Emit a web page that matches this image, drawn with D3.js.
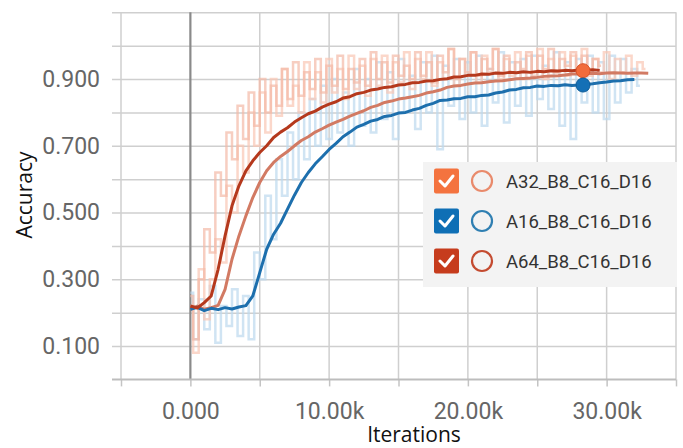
<!DOCTYPE html>
<html>
<head>
<meta charset="utf-8">
<script src="https://cdn.jsdelivr.net/npm/d3@7"></script>
<style>
  body { margin: 0; background: #fff; }
  svg { display: block; }
</style>
</head>
<body>
<svg id="chart"></svg>
<script>
const SVG_WIDTH = 683;
const SVG_HEIGHT = 448;

// sampled every SMOOTH_STEP iterations, starting at 0
const SMOOTH_STEP = 500;
const RAW_STEP = 400;

const seriesNames = ["A32_B8_C16_D16", "A16_B8_C16_D16", "A64_B8_C16_D16"];

const a32Smooth = [0.21, 0.22, 0.21, 0.215, 0.222, 0.27, 0.36, 0.43, 0.49, 0.545,
  0.59, 0.625, 0.65, 0.668, 0.683, 0.70, 0.716, 0.727, 0.741, 0.751,
  0.762, 0.771, 0.779, 0.789, 0.797, 0.805, 0.815, 0.821, 0.83, 0.834,
  0.84, 0.843, 0.847, 0.851, 0.858, 0.862, 0.867, 0.875, 0.879, 0.881,
  0.885, 0.888, 0.889, 0.892, 0.894, 0.895, 0.898, 0.901, 0.902, 0.903,
  0.905, 0.908, 0.909, 0.91, 0.912, 0.915, 0.915, 0.916, 0.917, 0.916,
  0.918, 0.919, 0.918, 0.917, 0.918, 0.918, 0.917];

const a16Smooth = [0.21, 0.216, 0.206, 0.213, 0.209, 0.215, 0.211, 0.217, 0.221, 0.25,
  0.32, 0.39, 0.435, 0.468, 0.51, 0.552, 0.59, 0.62, 0.646, 0.667,
  0.689, 0.707, 0.727, 0.741, 0.756, 0.764, 0.774, 0.779, 0.788, 0.791,
  0.798, 0.80, 0.807, 0.812, 0.821, 0.827, 0.836, 0.837, 0.841, 0.842,
  0.847, 0.847, 0.851, 0.852, 0.858, 0.861, 0.867, 0.869, 0.874, 0.875,
  0.879, 0.878, 0.881, 0.88, 0.883, 0.881, 0.882, 0.884, 0.886, 0.889,
  0.891, 0.894, 0.895, 0.898, 0.899];

const a64Smooth = [0.22, 0.214, 0.23, 0.25, 0.33, 0.43, 0.52, 0.58, 0.625, 0.655,
  0.68, 0.70, 0.725, 0.741, 0.754, 0.771, 0.784, 0.796, 0.804, 0.816,
  0.825, 0.832, 0.843, 0.847, 0.856, 0.86, 0.867, 0.87, 0.875, 0.877,
  0.882, 0.884, 0.889, 0.89, 0.894, 0.895, 0.899, 0.901, 0.906, 0.907,
  0.911, 0.911, 0.915, 0.914, 0.918, 0.917, 0.92, 0.919, 0.922, 0.92,
  0.923, 0.922, 0.925, 0.924, 0.926, 0.925, 0.927, 0.926, 0.928, 0.926];

// raw (unsmoothed) values, every RAW_STEP iterations
const a32Raw = [0.22, 0.08, 0.33, 0.18, 0.30, 0.42, 0.35, 0.58, 0.50, 0.70,
  0.62, 0.80, 0.70, 0.86, 0.74, 0.90, 0.79, 0.93, 0.82, 0.88,
  0.80, 0.95, 0.84, 0.92, 0.83, 0.96, 0.86, 0.93, 0.84, 0.97,
  0.87, 0.94, 0.85, 0.96, 0.88, 0.97, 0.86, 0.95, 0.89, 0.98,
  0.87, 0.96, 0.90, 0.98, 0.88, 0.95, 0.90, 0.99, 0.88, 0.96,
  0.91, 0.98, 0.89, 0.97, 0.92, 0.99, 0.90, 0.96, 0.91, 0.98,
  0.90, 0.97, 0.92, 0.99, 0.90, 0.96, 0.92, 0.98, 0.91, 0.97,
  0.93, 0.99, 0.91, 0.96, 0.92, 0.98, 0.90, 0.96, 0.92, 0.97,
  0.91, 0.95, 0.93];

const a16Raw = [0.26, 0.12, 0.24, 0.15, 0.28, 0.11, 0.22, 0.16, 0.27, 0.13,
  0.25, 0.12, 0.38, 0.30, 0.55, 0.42, 0.66, 0.55, 0.74, 0.60,
  0.80, 0.66, 0.84, 0.70, 0.88, 0.72, 0.90, 0.74, 0.86, 0.70,
  0.93, 0.76, 0.90, 0.74, 0.95, 0.78, 0.92, 0.72, 0.96, 0.80,
  0.91, 0.75, 0.95, 0.80, 0.97, 0.69, 0.94, 0.82, 0.96, 0.78,
  0.95, 0.80, 0.97, 0.76, 0.93, 0.83, 0.98, 0.77, 0.95, 0.82,
  0.96, 0.79, 0.97, 0.84, 0.94, 0.81, 0.98, 0.76, 0.95, 0.72,
  0.96, 0.83, 0.97, 0.80, 0.95, 0.78, 0.97, 0.83, 0.96, 0.86,
  0.93, 0.88];

const a64Raw = [0.25, 0.12, 0.30, 0.45, 0.38, 0.62, 0.55, 0.74, 0.66, 0.82,
  0.72, 0.86, 0.76, 0.90, 0.80, 0.88, 0.82, 0.93, 0.84, 0.95,
  0.85, 0.92, 0.87, 0.96, 0.86, 0.94, 0.88, 0.97, 0.87, 0.93,
  0.89, 0.96, 0.88, 0.98, 0.90, 0.95, 0.89, 0.97, 0.91, 0.94,
  0.90, 0.98, 0.91, 0.95, 0.89, 0.97, 0.92, 0.99, 0.90, 0.96,
  0.92, 0.98, 0.91, 0.96, 0.93, 0.99, 0.91, 0.97, 0.92, 0.95,
  0.93, 0.98, 0.91, 0.97, 0.93, 0.99, 0.92, 0.96, 0.94, 0.98,
  0.92, 0.97, 0.93, 0.96, 0.94];

// hover markers
const markerIter = 28300;
const markerA32 = 0.925;
const markerA16 = 0.882;

const yGrid = [0.1, 0.2, 0.3, 0.4, 0.5, 0.6, 0.7, 0.8, 0.9, 1.0, 1.1];
const yLabels = [0.1, 0.3, 0.5, 0.7, 0.9];
const xGrid = [-5000, 0, 5000, 10000, 15000, 20000, 25000, 30000, 35000];
const xLabels = [0, 10000, 20000, 30000];

const smoothColors = ["#d27a63", "#1d6fad", "#b5391d"];
const rawColors = ["#f9c6b3", "#bcd9ee", "#f4b9a6"];
const boxColors = ["#f4733f", "#0f6fb5", "#c63c1d"];
const ringColors = ["#e98a6b", "#2f7fb2", "#c44b30"];

let svg = d3.select("#chart")
  .attr("width", SVG_WIDTH)
  .attr("height", SVG_HEIGHT);

let x = d3.scaleLinear().domain([-5000, 35000]).range([121, 676]);
let y = d3.scaleLinear().domain([0, 1.1]).range([379.4, 12.3]);

// horizontal grid + y labels
let yAxis = d3.axisLeft(y)
  .tickValues(yGrid)
  .tickSize(-(676 - 112))
  .tickPadding(12)
  .tickFormat(d => yLabels.some(v => Math.abs(v - d) < 1e-9) ? d3.format(".3f")(d) : "");

svg.append("g")
  .attr("transform", "translate(112,0)")
  .call(yAxis)
  .call(g => g.select(".domain").remove())
  .call(g => g.selectAll("line").attr("stroke", "#cfcfcf").attr("stroke-width", 1.5))
  .call(g => g.selectAll("text")
    .attr("fill", "#666")
    .attr("font-family", "Roboto, Arial, sans-serif")
    .attr("font-size", 23));

// vertical grid
svg.append("g")
  .selectAll("line")
  .data(xGrid)
  .enter()
  .append("line")
  .attr("x1", d => x(d))
  .attr("x2", d => x(d))
  .attr("y1", y(1.1))
  .attr("y2", y(0))
  .attr("stroke", d => d === 0 ? "#8a8a8a" : "#cfcfcf")
  .attr("stroke-width", d => d === 0 ? 2.2 : 1.5);

// bottom axis
let xAxis = d3.axisBottom(x)
  .tickValues(xGrid)
  .tickSize(7)
  .tickPadding(16)
  .tickFormat(d => xLabels.includes(d) ? (d === 0 ? "0.000" : d3.format(".2f")(d / 1000) + "k") : "");

svg.append("g")
  .attr("transform", "translate(0," + y(0) + ")")
  .call(xAxis)
  .call(g => g.select(".domain").remove())
  .call(g => g.selectAll("line").attr("stroke", "#c4c4c4").attr("stroke-width", 1.5))
  .call(g => g.selectAll("text")
    .attr("fill", "#666")
    .attr("font-family", "Roboto, Arial, sans-serif")
    .attr("font-size", 23));

svg.append("line")
  .attr("x1", 112).attr("x2", 676)
  .attr("y1", y(0)).attr("y2", y(0))
  .attr("stroke", "#bdbdbd")
  .attr("stroke-width", 2);

// lines
function make_line(step) {
  return d3.line()
    .x((d, i) => x(i * step))
    .y(d => y(d));
}

let rawSeries = [a16Raw, a32Raw, a64Raw];
let rawCol = [rawColors[1], rawColors[0], rawColors[2]];
rawSeries.forEach((s, k) => {
  svg.append("path")
    .datum(s)
    .attr("d", make_line(RAW_STEP).curve(d3.curveStep))
    .attr("fill", "none")
    .attr("stroke", rawCol[k])
    .attr("stroke-width", 2.5)
    .attr("opacity", 0.7);
});

let smoothSeries = [a32Smooth, a16Smooth, a64Smooth];
smoothSeries.forEach((s, k) => {
  svg.append("path")
    .datum(s)
    .attr("d", make_line(SMOOTH_STEP))
    .attr("fill", "none")
    .attr("stroke", smoothColors[k])
    .attr("stroke-width", 3)
    .attr("stroke-linejoin", "round");
});

// markers
svg.append("circle")
  .attr("cx", x(markerIter)).attr("cy", y(markerA32)).attr("r", 7)
  .attr("fill", "#f26b3a").attr("stroke", "#d9552a").attr("stroke-width", 1);
svg.append("circle")
  .attr("cx", x(markerIter)).attr("cy", y(markerA16)).attr("r", 7)
  .attr("fill", "#1470b6").attr("stroke", "#0e5d99").attr("stroke-width", 1);

// legend
let legend = svg.append("g");
legend.append("rect")
  .attr("x", 423).attr("y", 162)
  .attr("width", 254).attr("height", 125)
  .attr("fill", "#f3f3f3");

let rows = legend.selectAll("g.row")
  .data(seriesNames)
  .enter()
  .append("g")
  .attr("class", "row")
  .attr("transform", (d, i) => "translate(0," + (181 + i * 40) + ")");

rows.append("rect")
  .attr("x", 434).attr("y", -12.5)
  .attr("width", 25).attr("height", 25)
  .attr("rx", 2)
  .attr("fill", (d, i) => boxColors[i]);

rows.append("path")
  .attr("d", "M440,0 L445,5 L453,-5")
  .attr("fill", "none")
  .attr("stroke", "#fff")
  .attr("stroke-width", 3)
  .attr("stroke-linecap", "round")
  .attr("stroke-linejoin", "round");

rows.append("circle")
  .attr("cx", 482).attr("cy", 0).attr("r", 10)
  .attr("fill", "none")
  .attr("stroke", (d, i) => ringColors[i])
  .attr("stroke-width", 2.2);

rows.append("text")
  .attr("x", 506).attr("y", 0)
  .attr("dy", "0.36em")
  .attr("fill", "#333")
  .attr("font-family", "Roboto, Arial, sans-serif")
  .attr("font-size", 18.5)
  .text(d => d);

// axis titles
svg.append("text")
  .attr("transform", "translate(32,195) rotate(-90)")
  .attr("text-anchor", "middle")
  .attr("font-family", "'Open Sans', sans-serif")
  .attr("font-size", 21)
  .attr("fill", "#111")
  .text("Accuracy");

svg.append("text")
  .attr("x", 414).attr("y", 442)
  .attr("text-anchor", "middle")
  .attr("font-family", "'Open Sans', sans-serif")
  .attr("font-size", 21)
  .attr("fill", "#111")
  .text("Iterations");
</script>
</body>
</html>
